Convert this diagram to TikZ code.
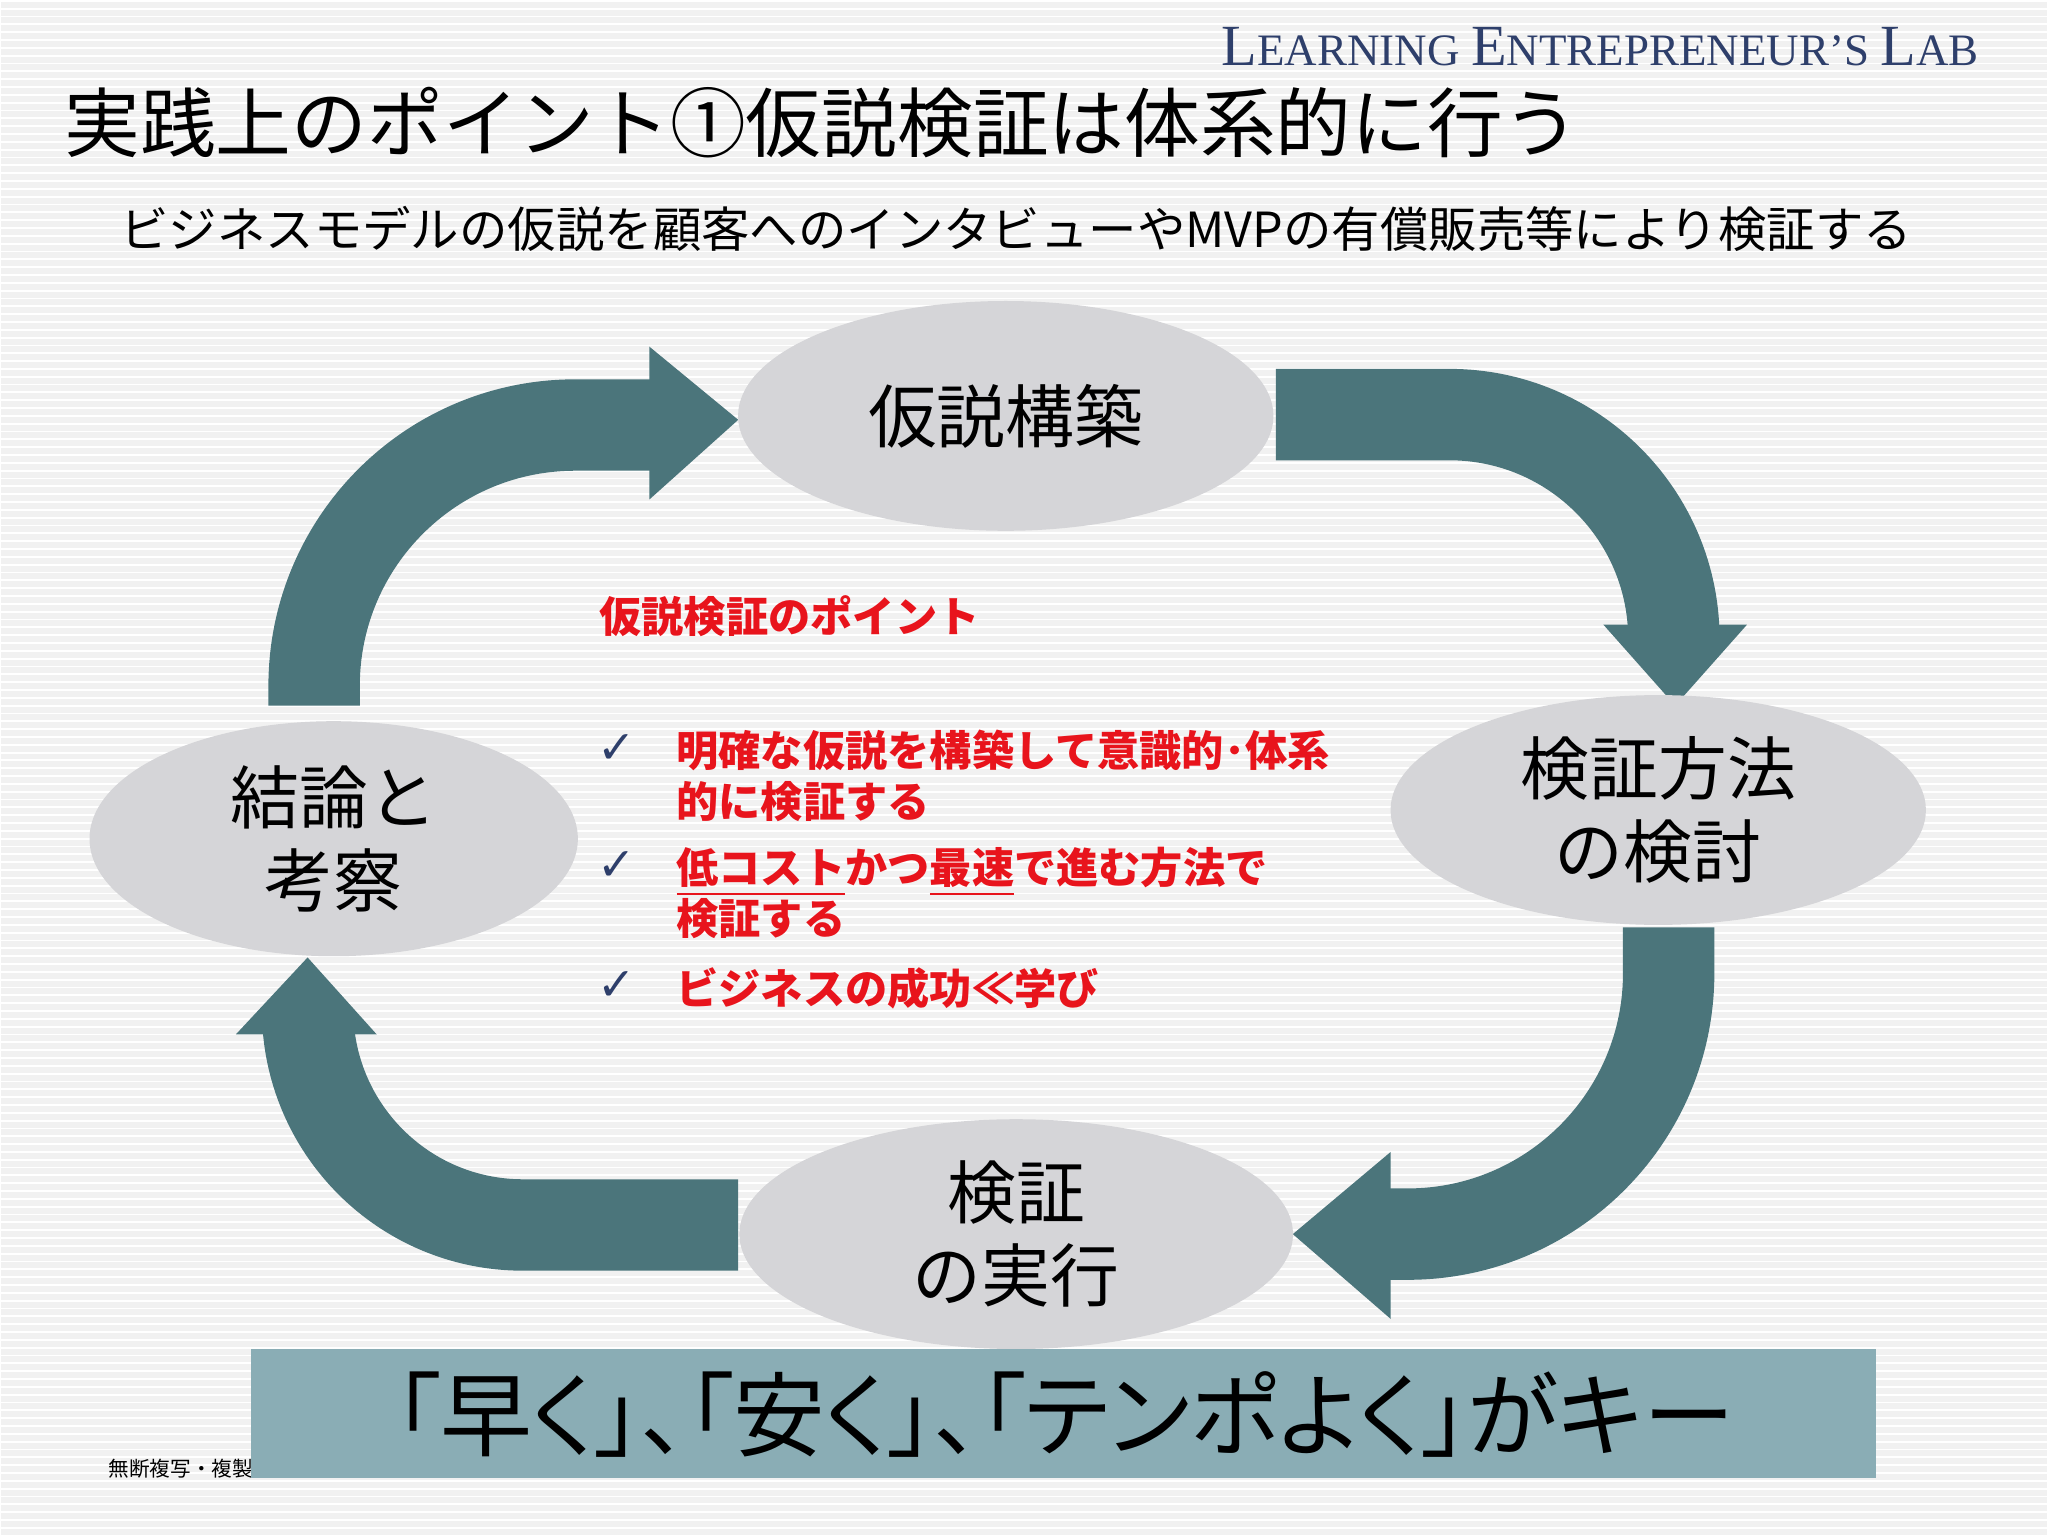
\documentclass[tikz,border=0pt]{standalone}
\usepackage{fontspec}
\usetikzlibrary{shapes.geometric}
\setmainfont{Noto Sans CJK JP}
\newfontfamily\paltf[RawFeature=+palt]{Noto Sans CJK JP}
\newfontfamily\serifx{Liberation Serif}
\newfontfamily\djv{DejaVu Sans}
\definecolor{band}{HTML}{4B757B}
\definecolor{ell}{HTML}{D5D5D8}
\definecolor{banner}{HTML}{8AADB5}
\definecolor{redt}{HTML}{E8141C}
\definecolor{navy}{HTML}{2E3F6B}
\definecolor{bg}{HTML}{F1F1F1}
\newcommand{\fs}[1]{\fontsize{#1pt}{\dimexpr #1pt*12/10\relax}\selectfont}
\newcommand{\SC}[2]{{\fs{12.7}#1}{\fs{9.8}#2}}
\begin{document}
\begin{tikzpicture}[x=0.01cm,y=-0.01cm,
  bandline/.style={band,line width=0.7cm},
  headtri/.style={fill=band,draw=none},
  elln/.style={ellipse,fill=ell,draw=none,align=center,font=\fs{15},inner sep=0pt}]
\fill[bg] (0,0) rectangle (1568,1176);
\foreach \i in {0,6,...,1176}{\draw[white,line width=0.4pt] (0,\i) -- (1568,\i);}
% header
\node[anchor=east,text=navy,font=\serifx] (hdr) at (1528,35) {\SC{L}{EARNING} \SC{E}{NTREPRENEUR’S} \SC{L}{AB}};
\node[anchor=west,font=\fs{16.5},inner sep=0pt] (title) at (48,93) {実践上のポイント①仮説検証は体系的に行う};
\node[font=\fs{10.55}] (sub) at (778,175) {ビジネスモデルの仮説を顧客へのインタビューやMVPの有償販売等により検証する};
% arrows
\draw[bandline] (240,540) -- (240,525) arc[start angle=180,end angle=270,radius=200] -- (500,325);
\fill[headtri] (497,265) -- (565,321) -- (497,382) -- cycle;
\draw[bandline] (977,317) -- (1110,317) arc[start angle=270,end angle=360,radius=172] -- (1282,480);
\fill[headtri] (1228,478) -- (1338,478) -- (1283,540) -- cycle;
\draw[bandline] (1278,710) -- (1278,745) arc[start angle=0,end angle=90,radius=200] -- (1062,945);
\fill[headtri] (1065,882) -- (1065,1010) -- (990,945) -- cycle;
\draw[bandline] (565,938) -- (400,938) arc[start angle=90,end angle=180,radius=165] -- (235,788);
\fill[headtri] (180,792) -- (288,792) -- (235,733) -- cycle;
% ellipses
\node[elln,minimum width=4.1cm,minimum height=1.76cm] (a) at (770,318) {仮説構築};
\node[elln,minimum width=4.1cm,minimum height=1.76cm] (b) at (1270,620) {検証方法\\の検討};
\node[elln,minimum width=4.24cm,minimum height=1.76cm] (c) at (778,945) {検証\\の実行};
\node[elln,minimum width=3.74cm,minimum height=1.8cm] (d) at (255,642) {結論と\\考察};
% center text
\begin{scope}[every node/.style={anchor=north west,text=redt,font=\fs{9.2}\bfseries,align=left,inner sep=0pt}]
\node (pt) at (458,455) {仮説検証のポイント};
\node (t1) at (517,558) {明確な仮説を構築して意識的･体系\\[0pt]的に検証する};
\node (t2) at (517,648) {\underline{低コスト}かつ\underline{最速}で進む方法で\\[0pt]検証する};
\node (t3) at (517,740) {ビジネスの成功≪学び};
\end{scope}
\foreach \y [count=\k] in {573,663,755}{\node[text=navy,font=\djv\fs{10}] (ck\k) at (472,\y) {✓};}
% footer
\node[anchor=west,font=\fs{4.5}] (foot) at (70,1125) {無断複写・複製を禁じます};
\fill[banner] (192,1033) rectangle (1437,1132);
\node[font=\paltf\fs{20}] (key) at (815,1083) {「早く」、「安く」、「テンポよく」がキー};
\end{tikzpicture}
\end{document}
